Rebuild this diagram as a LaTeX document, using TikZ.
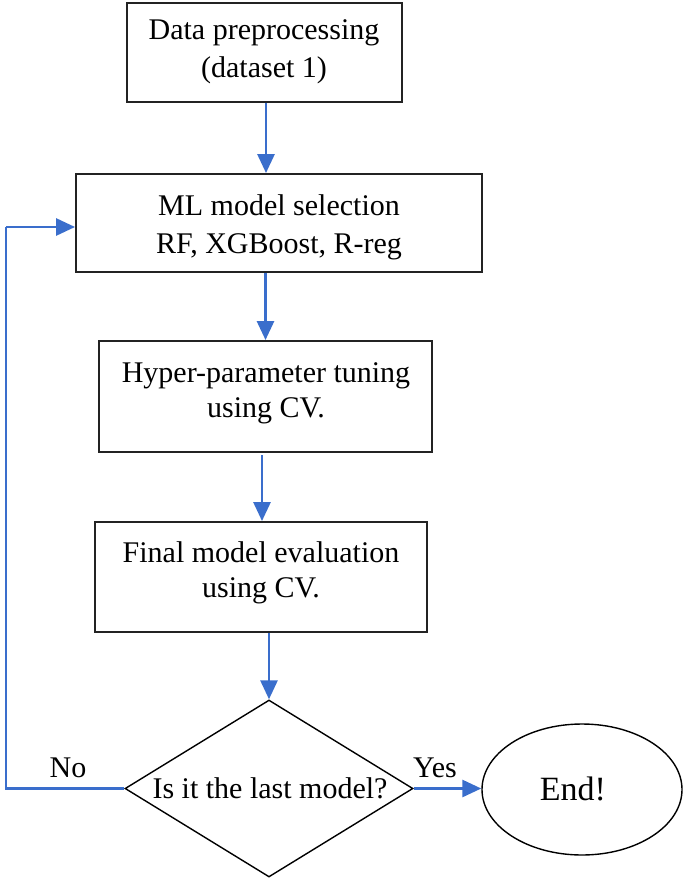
\documentclass[tikz,border=0pt]{standalone}
\usepackage{fontspec}
\setmainfont{Liberation Serif}
\usetikzlibrary{arrows.meta,shapes.geometric}
\definecolor{flowblue}{RGB}{58,110,204}
\definecolor{boxline}{RGB}{35,35,35}
\tikzset{
  stepbox/.style={draw=boxline,line width=1.9pt,rectangle,inner sep=0pt},
  txt/.style={anchor=base,inner sep=0pt,font=\fontsize{30}{36}\selectfont},
  flow/.style={draw=flowblue,line width=2.8pt,-{Triangle[length=19pt,width=17pt]}},
  flowline/.style={draw=flowblue,line width=2.8pt},
}
\begin{document}
\begin{tikzpicture}[x=1pt,y=-1pt]
\useasboundingbox (0,0) rectangle (685,880);
% boxes
\node[stepbox,minimum width=275pt,minimum height=99pt] (b1) at (264.5,52.5) {};
\node[stepbox,minimum width=406pt,minimum height=98pt] (b2) at (279,223) {};
\node[stepbox,minimum width=333pt,minimum height=111pt] (b3) at (265.5,396.5) {};
\node[stepbox,minimum width=332pt,minimum height=110pt] (b4) at (261,577) {};
\node[diamond,draw=black,line width=1.4pt,minimum width=288pt,minimum height=177pt,inner sep=0pt] (dec) at (269,788.5) {};
\node[ellipse,draw=black,line width=1.4pt,minimum width=200pt,minimum height=131pt,inner sep=0pt] (end) at (582,789.5) {};
% texts
\node[txt] (t1a) at (264,40) {Data preprocessing};
\node[txt] (t1b) at (264,78) {(dataset 1)};
\node[txt] (t2a) at (279,215) {ML model selection};
\node[txt] (t2b) at (279,253) {RF, XGBoost, R-reg};
\node[txt] (t3a) at (266,382) {Hyper-parameter tuning};
\node[txt] (t3b) at (266,417) {using CV.};
\node[txt] (t4a) at (261,562) {Final model evaluation};
\node[txt] (t4b) at (261,597) {using CV.};
\node[txt] (td) at (270,798) {Is it the last model?};
\node[txt,font=\fontsize{34}{40}\selectfont] (te) at (573,800) {End!};
\node[txt] (no) at (68,777) {No};
\node[txt] (yes) at (435,777) {Yes};
% connectors
\draw[flow] (b1.south -| 266,0) -- (b2.north -| 266,0);
\draw[flow] (b3.north |- b2.south) -- (b3.north);
\coordinate (s3) at (262,455);
\draw[flow] (s3) -- (s3 |- b4.north);
\draw[flow] (dec.north |- b4.south) -- (dec.north);
\draw[flow] (dec.east) -- (dec.east -| end.west);
\coordinate (c1) at (6,788.5);
\coordinate (c2) at (6,227);
\draw[flowline] (dec.west) -- (c1) -- (c2);
\draw[flow] (c2) -- (c2 -| b2.west);
\end{tikzpicture}
\end{document}
